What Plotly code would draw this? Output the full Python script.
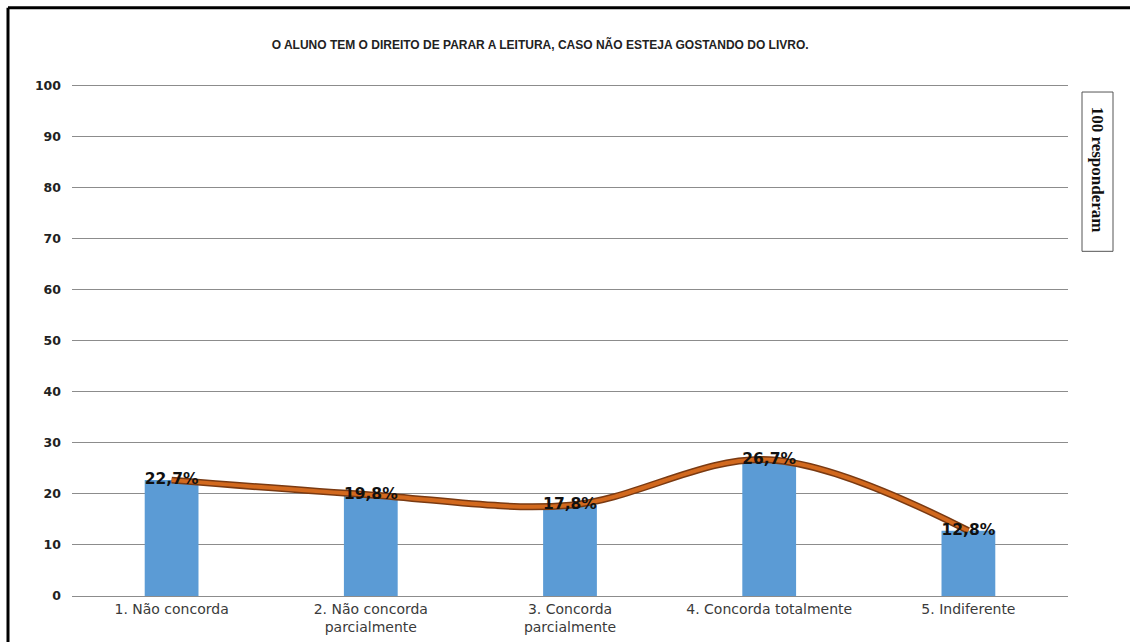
import plotly.graph_objects as go

categories = ["1. Não concorda", "2. Não concorda<br>parcialmente", "3. Concorda<br>parcialmente",
              "4. Concorda totalmente", "5. Indiferente"]
values = [22.7, 19.8, 17.8, 26.7, 12.8]
labels = ["22,7%", "19,8%", "17,8%", "26,7%", "12,8%"]
y_ticks = [0, 10, 20, 30, 40, 50, 60, 70, 80, 90, 100]

# pixel -> paper helpers for the plot area (x 72..1068, y 596..85)
def px(x):
    return (x - 72) / 996

def py(y):
    return (596 - y) / 511

fig = go.Figure()

fig.add_trace(go.Bar(
    x=categories, y=values, width=0.27,
    marker=dict(color="#5B9BD5", line=dict(width=0)),
    hoverinfo="skip",
))
# trend line: dark outline under an orange core
fig.add_trace(go.Scatter(
    x=categories, y=values, mode="lines",
    line=dict(color="#7A3A12", width=7, shape="spline", smoothing=1.0),
    hoverinfo="skip",
))
fig.add_trace(go.Scatter(
    x=categories, y=values, mode="lines",
    line=dict(color="#D2691E", width=4, shape="spline", smoothing=1.0),
    hoverinfo="skip",
))
fig.add_trace(go.Scatter(
    x=categories, y=values, mode="text",
    text=[f"<b>{t}</b>" for t in labels],
    textposition="middle center",
    textfont=dict(family="DejaVu Sans", size=15.5, color="#111111"),
    hoverinfo="skip",
))

fig.update_layout(
    width=1130, height=642,
    margin=dict(l=72, r=62, t=84, b=46),
    paper_bgcolor="white", plot_bgcolor="white",
    showlegend=False,
    bargap=0.73,
    title=dict(
        text="<b>O ALUNO TEM O DIREITO DE PARAR A LEITURA, CASO NÃO ESTEJA GOSTANDO DO LIVRO.</b>",
        x=0.478, xanchor="center", y=0.93, yanchor="middle",
        font=dict(family="Arial", size=12, color="#222222"),
    ),
    xaxis=dict(
        showgrid=False, showline=False, zeroline=False, ticks="",
        ticklabelstandoff=3, automargin=False,
        tickfont=dict(family="DejaVu Sans", size=14, color="#3a3a3a"),
        fixedrange=True,
    ),
    yaxis=dict(
        range=[0, 100.3], tickvals=y_ticks,
        ticktext=[f"<b>{v}</b>" for v in y_ticks],
        showgrid=True, gridcolor="#8c8c8c", gridwidth=1,
        zeroline=True, zerolinecolor="#8c8c8c", zerolinewidth=1,
        showline=False, ticks="", ticklabelstandoff=10, automargin=False,
        tickfont=dict(family="DejaVu Sans", size=12.5, color="#222222"),
        fixedrange=True,
    ),
    annotations=[dict(
        text="<b>100 responderam</b>", textangle=90,
        xref="paper", yref="paper",
        x=px(1097.5), y=py(170),
        xanchor="center", yanchor="middle", showarrow=False,
        font=dict(family="Liberation Serif, Times New Roman", size=17, color="#111111"),
    )],
    shapes=[
        dict(type="rect", xref="paper", yref="paper",
             x0=px(1082), x1=px(1113), y0=py(93), y1=py(252),
             line=dict(color="#555555", width=1), fillcolor="rgba(0,0,0,0)"),
        dict(type="line", xref="paper", yref="paper",
             x0=px(8), x1=px(1140), y0=py(9), y1=py(9),
             line=dict(color="black", width=3)),
        dict(type="line", xref="paper", yref="paper",
             x0=px(8), x1=px(8), y0=py(9), y1=py(650),
             line=dict(color="black", width=3)),
    ],
)

fig.write_html("out.html")
